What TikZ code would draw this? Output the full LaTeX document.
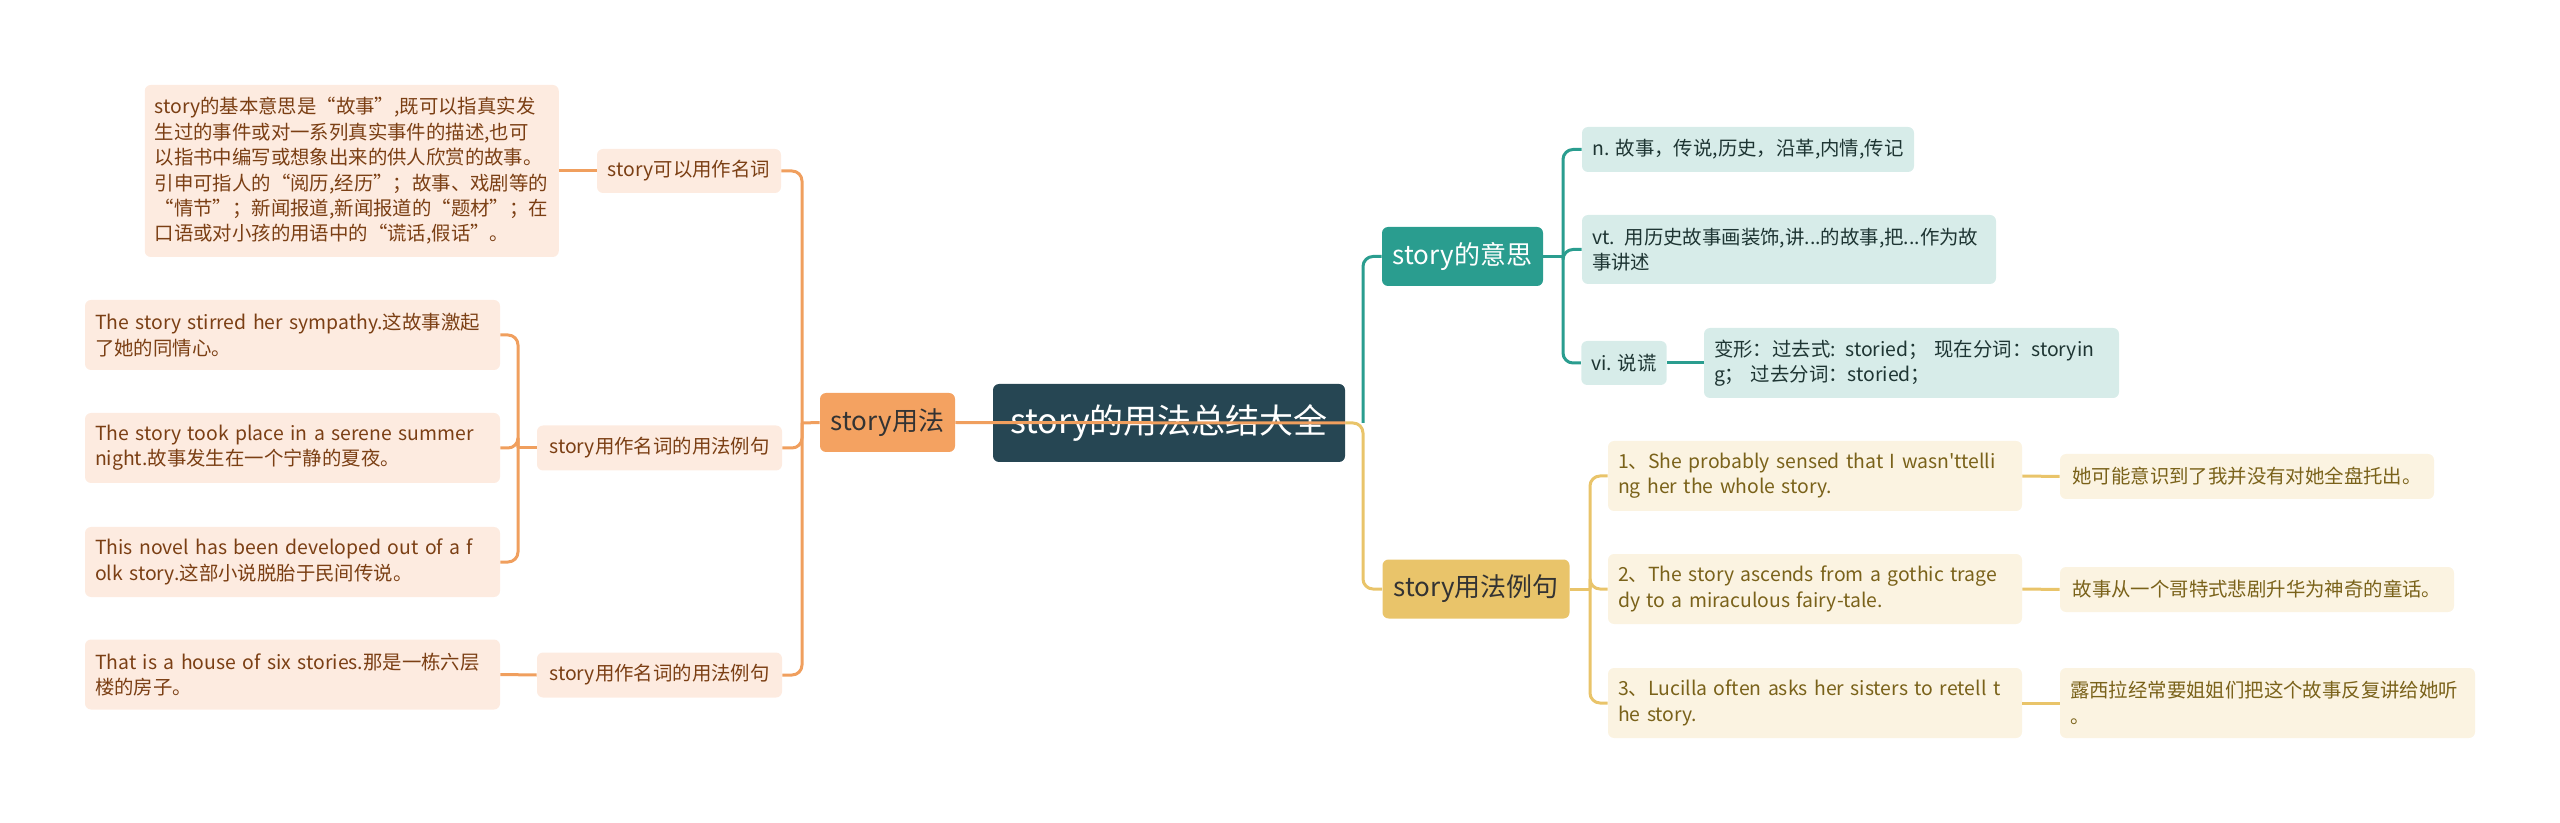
\documentclass[tikz,border=0pt]{standalone}
\usepackage{fontspec}
\setmainfont{Noto Sans CJK SC}
\newfontfamily\aposfont{Noto Sans CJK SC}
\usetikzlibrary{positioning}
\definecolor{rootC}{HTML}{264653}
\definecolor{tealC}{HTML}{2A9D8F}
\definecolor{goldC}{HTML}{E9C46A}
\definecolor{orangeC}{HTML}{F4A261}
\definecolor{peachC}{HTML}{FDEBE0}
\definecolor{mintC}{HTML}{D7ECE9}
\definecolor{creamC}{HTML}{FBF3E1}
\definecolor{brownT}{HTML}{7B3F14}
\definecolor{oliveT}{HTML}{7A621A}
\definecolor{darkT}{HTML}{1E3533}
\tikzset{
  box/.style={rounded corners=3pt, inner xsep=5pt, inner ysep=2pt, align=left},
  leaf/.style={box, font=\fontsize{9.7}{12.7}\selectfont},
  leafO/.style={leaf, fill=peachC, text=brownT},
  leafT/.style={leaf, fill=mintC, text=darkT},
  leafG/.style={leaf, fill=creamC, text=oliveT},
  topic/.style={box, align=center, font=\fontsize{13}{15}\selectfont, minimum height=29.5pt},
  lineO/.style={draw=orangeC!92!brown, line width=1.5pt, rounded corners=5pt},
  lineT/.style={draw=tealC, line width=1.5pt, rounded corners=5pt},
  lineG/.style={draw=goldC, line width=1.5pt, rounded corners=5pt},
}
\begin{document}
\begin{tikzpicture}[x=0.5pt, y=-0.5pt]
  \useasboundingbox (0,0) rectangle (2560,823);

  % centre
  \node[box, align=center, fill=rootC, text=white, font=\fontsize{17}{20}\selectfont,
    minimum width=176pt, minimum height=39pt] (root) at (1169,423) {story的用法总结大全};

  % main branches
  \node[topic, fill=orangeC, text=black!80, minimum width=67.5pt] (usage) at (887.5,422.5) {story用法};
  \node[topic, fill=tealC, text=white, minimum width=80.5pt] (meaning) at (1462.5,256.5) {story的意思};
  \node[topic, fill=goldC, text=black!80, minimum width=93.5pt] (examples) at (1476,589) {story用法例句};

  % left side
  \node[leafO, minimum width=92pt, minimum height=22pt] (noun) at (689,171) {story可以用作名词};
  \node[leafO, minimum width=122.5pt, minimum height=22.5pt] (nounEx) at (659.5,448) {story用作名词的用法例句};
  \node[leafO, minimum width=122.5pt, minimum height=22.5pt] (nounExB) at (659.5,675) {story用作名词的用法例句};

  \node[leafO, text width=197pt, minimum height=86pt] (def) at (351.75,171)
    {story的基本意思是“故事”,既可以指真实发\\生过的事件或对一系列真实事件的描述,也可\\以指书中编写或想象出来的供人欣赏的故事。\\引申可指人的“阅历,经历”；故事、戏剧等的\\“情节”；新闻报道,新闻报道的“题材”；在\\口语或对小孩的用语中的“谎话,假话”。};
  \node[leafO, text width=197.5pt, minimum height=35pt] (sentA) at (292.5,335)
    {The story stirred her sympathy.这故事激起\\了她的同情心。};
  \node[leafO, text width=197.5pt, minimum height=35pt] (sentB) at (292.5,448)
    {The story took place in a serene summer\\night.故事发生在一个宁静的夏夜。};
  \node[leafO, text width=197.5pt, minimum height=35pt] (sentC) at (292.5,562)
    {This novel has been developed out of a f\\olk story.这部小说脱胎于民间传说。};
  \node[leafO, text width=197.5pt, minimum height=35pt] (sentD) at (292.5,674.5)
    {That is a house of six stories.那是一栋六层\\楼的房子。};

  % right side, meanings
  \node[leafT, minimum width=166pt, minimum height=22.5pt] (noun2) at (1748,149.5)
    {n. 故事，传说,历史，沿革,内情,传记};
  \node[leafT, text width=197pt, minimum height=34.5pt] (verbT) at (1789,249.5)
    {vt. 用历史故事画装饰,讲...的故事,把...作为故\\事讲述};
  \node[leafT, minimum width=42pt, minimum height=22pt] (verbI) at (1624,363) {vi. 说谎};
  \node[leafT, text width=197.5pt, minimum height=35pt] (forms) at (1911.5,363)
    {变形：过去式: storied；\ 现在分词：storyin\\g；\ 过去分词：storied；};

  % right side, examples
  \node[leafG, text width=197pt, minimum height=35pt] (exA) at (1815,476)
    {1、She probably sensed that I wasn{\aposfont '}ttelli\\ng her the whole story.};
  \node[leafG, text width=197pt, minimum height=35pt] (exB) at (1815,589)
    {2、The story ascends from a gothic trage\\dy to a miraculous fairy-tale.};
  \node[leafG, text width=197pt, minimum height=35pt] (exC) at (1815,703)
    {3、Lucilla often asks her sisters to retell t\\he story.};
  \node[leafG, minimum width=187pt, minimum height=22.5pt] (trA) at (2247,476.5)
    {她可能意识到了我并没有对她全盘托出。};
  \node[leafG, minimum width=197pt, minimum height=22.5pt] (trB) at (2257,589.5)
    {故事从一个哥特式悲剧升华为神奇的童话。};
  \node[leafG, text width=197.5pt, minimum height=35pt] (trC) at (2267.5,703)
    {露西拉经常要姐姐们把这个故事反复讲给她听\\。};

  % junction points
  \coordinate (lTrunk) at (802,423);
  \coordinate (exTrunk) at (518,448);
  \coordinate (rTrunk) at (1363,423);
  \coordinate (mTrunk) at (1563,256.5);
  \coordinate (eTrunk) at (1590,589);

  % connectors
  \draw[lineO] (root.east) -- (usage.east);
  \draw[lineO] (usage.west) -- (lTrunk);
  \draw[lineO] (lTrunk) |- (noun.east);
  \draw[lineO] (lTrunk) |- (nounEx.east);
  \draw[lineO] (lTrunk) |- (nounExB.east);
  \draw[lineO] (noun.west) -- (def.east);
  \draw[lineO] (nounEx.west) -- (exTrunk);
  \draw[lineO] (exTrunk) |- (sentA.east);
  \draw[lineO] (exTrunk) |- (sentB.east);
  \draw[lineO] (exTrunk) |- (sentC.east);
  \draw[lineO] (nounExB.west) -- (sentD.east);

  \draw[lineT] (rTrunk) |- (meaning.west);
  \draw[lineG] (root.east) -- (rTrunk) |- (examples.west);
  \draw[lineT] (meaning.east) -- (mTrunk);
  \draw[lineT] (mTrunk) |- (noun2.west);
  \draw[lineT] (mTrunk) |- (verbT.west);
  \draw[lineT] (mTrunk) |- (verbI.west);
  \draw[lineT] (verbI.east) -- (forms.west);

  \draw[lineG] (examples.east) -- (eTrunk);
  \draw[lineG] (eTrunk) |- (exA.west);
  \draw[lineG] (eTrunk) |- (exB.west);
  \draw[lineG] (eTrunk) |- (exC.west);
  \draw[lineG] (exA.east) -- (trA.west);
  \draw[lineG] (exB.east) -- (trB.west);
  \draw[lineG] (exC.east) -- (trC.west);
\end{tikzpicture}
\end{document}
